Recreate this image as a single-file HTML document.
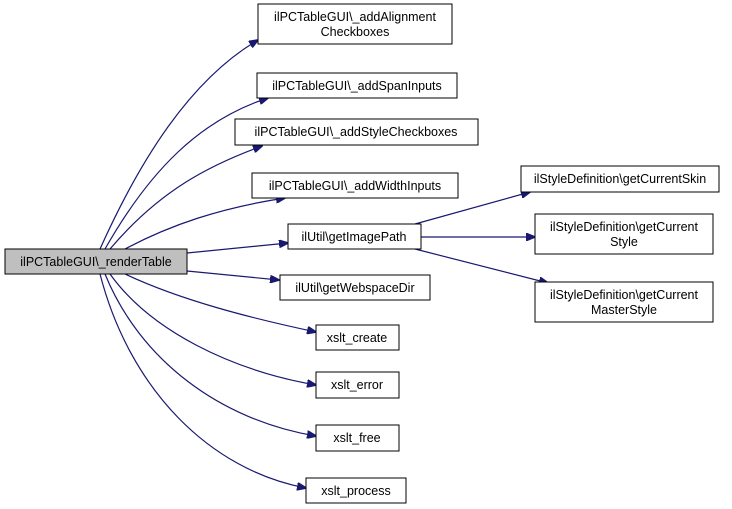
<!DOCTYPE html>
<html><head><style>
body{margin:0;background:#fff}
svg{display:block}
text{font-family:"Liberation Sans",sans-serif;font-size:12.5px;fill:#000}
rect{stroke:#000;stroke-width:1}
path{fill:none;stroke:#191970;stroke-width:1.2}
</style></head><body>
<svg width="732" height="509" viewBox="0 0 732 509" xmlns="http://www.w3.org/2000/svg">
<defs><marker id="a" markerWidth="10" markerHeight="8" refX="9" refY="4" orient="auto" markerUnits="userSpaceOnUse"><polygon points="0,0 10,4 0,8" fill="#191970" stroke="#191970"/></marker></defs>
<g>
<path d="M100,249 C140,160 190,80 258,40" marker-end="url(#a)"/>
<path d="M105,249 C150,170 200,120 268,98" marker-end="url(#a)"/>
<path d="M110,249 C160,190 210,165 262,146" marker-end="url(#a)"/>
<path d="M125,249 C170,225 220,208 285,198" marker-end="url(#a)"/>
<path d="M187,253 L288,243" marker-end="url(#a)"/>
<path d="M187,271 L279,280" marker-end="url(#a)"/>
<path d="M125,274 C180,300 250,318 316,332" marker-end="url(#a)"/>
<path d="M110,274 C150,330 230,370 316,385" marker-end="url(#a)"/>
<path d="M105,274 C140,360 220,420 316,436" marker-end="url(#a)"/>
<path d="M100,274 C130,390 210,470 306,488" marker-end="url(#a)"/>
<path d="M415,224 L530,192" marker-end="url(#a)"/>
<path d="M421,237 L535,237" marker-end="url(#a)"/>
<path d="M415,249 L548,283" marker-end="url(#a)"/>
</g>
<rect x="5" y="249" width="182" height="25" fill="#bfbfbf"/><text x="96" y="266" text-anchor="middle">ilPCTableGUI\_renderTable</text>
<rect x="258" y="4" width="194" height="40" fill="#fff"/><text x="355" y="21" text-anchor="middle">ilPCTableGUI\_addAlignment</text><text x="355" y="36" text-anchor="middle">Checkboxes</text>
<rect x="257" y="73" width="200" height="25" fill="#fff"/><text x="357" y="90" text-anchor="middle">ilPCTableGUI\_addSpanInputs</text>
<rect x="235" y="119" width="243" height="26" fill="#fff"/><text x="356" y="136" text-anchor="middle">ilPCTableGUI\_addStyleCheckboxes</text>
<rect x="252" y="173" width="206" height="25" fill="#fff"/><text x="355" y="190" text-anchor="middle">ilPCTableGUI\_addWidthInputs</text>
<rect x="288" y="224" width="133" height="25" fill="#fff"/><text x="354" y="241" text-anchor="middle">ilUtil\getImagePath</text>
<rect x="280" y="275" width="150" height="25" fill="#fff"/><text x="355" y="292" text-anchor="middle">ilUtil\getWebspaceDir</text>
<rect x="316" y="325" width="83" height="25" fill="#fff"/><text x="357" y="342" text-anchor="middle">xslt_create</text>
<rect x="316" y="372" width="83" height="26" fill="#fff"/><text x="357" y="389" text-anchor="middle">xslt_error</text>
<rect x="316" y="425" width="83" height="26" fill="#fff"/><text x="357" y="442" text-anchor="middle">xslt_free</text>
<rect x="306" y="478" width="100" height="25" fill="#fff"/><text x="356" y="495" text-anchor="middle">xslt_process</text>
<rect x="521" y="166" width="198" height="26" fill="#fff"/><text x="620" y="183" text-anchor="middle">ilStyleDefinition\getCurrentSkin</text>
<rect x="535" y="214" width="178" height="40" fill="#fff"/><text x="624" y="231" text-anchor="middle">ilStyleDefinition\getCurrent</text><text x="624" y="246" text-anchor="middle">Style</text>
<rect x="535" y="282" width="178" height="40" fill="#fff"/><text x="624" y="299" text-anchor="middle">ilStyleDefinition\getCurrent</text><text x="624" y="314" text-anchor="middle">MasterStyle</text>
</svg>
</body></html>
